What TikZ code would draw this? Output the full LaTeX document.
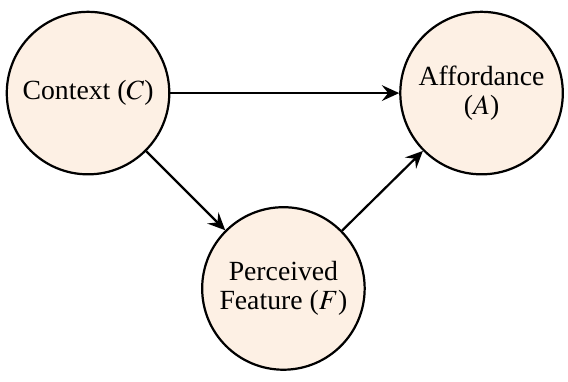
\documentclass[tikz,border=0pt]{standalone}
\usepackage{mathptmx}
\usepackage{fontspec}
\setmainfont{Liberation Serif}
\usepackage{xcolor}
\definecolor{factorfill}{RGB}{253,240,228}
\usepackage{tikz}
\usetikzlibrary{arrows.meta,positioning}
\tikzset{
  factor/.style={circle,draw,thick,fill=factorfill,minimum size=2.06cm,%
    inner sep=1pt,align=center,font=\fontsize{10}{10.5}\selectfont},
  link/.style={-{Stealth[length=2.2mm,width=2mm,inset=0.8mm]},thick},
}

\begin{document}
\begin{tikzpicture}[node distance=2.9cm]
\useasboundingbox (0,0) rectangle (7.2,-4.83);
\node[factor] (ctx) at (1.116,-1.18) {Context ($C$)};
\node[factor,right=of ctx] (aff) {Affordance\\($A$)};
\node[factor,below right=1.0cm and 1.0cm of ctx] (feat) {Perceived\\Feature ($F$)};
\draw[link] (ctx) -- (aff);
\draw[link] (ctx) -- (feat);
\draw[link] (feat) -- (aff);
\end{tikzpicture}
\end{document}
